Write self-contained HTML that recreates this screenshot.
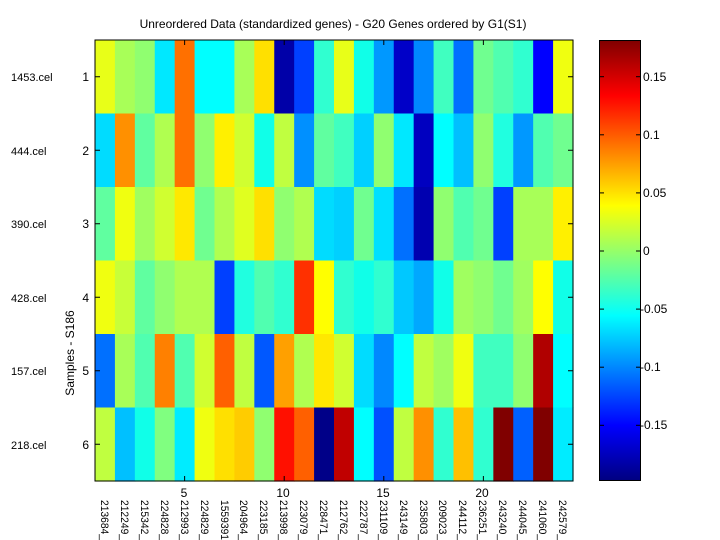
<!DOCTYPE html>
<html><head><meta charset="utf-8"><style>
body{margin:0;background:#fff;}
svg{display:block;font-family:"Liberation Sans",Arial,sans-serif;}
</style></head><body>
<svg id="s" width="720" height="540" viewBox="0 0 720 540" xmlns="http://www.w3.org/2000/svg">
<defs>
<linearGradient id="jet" x1="0" y1="1" x2="0" y2="0">
<stop offset="0" stop-color="#000080"/>
<stop offset="0.125" stop-color="#0000ff"/>
<stop offset="0.375" stop-color="#00ffff"/>
<stop offset="0.625" stop-color="#ffff00"/>
<stop offset="0.875" stop-color="#ff0000"/>
<stop offset="1" stop-color="#800000"/>
</linearGradient>
</defs>
<rect width="720" height="540" fill="#fff"/>
<g id="cells"></g>
<rect x="95" y="40" width="478" height="441" fill="none" stroke="#000" stroke-width="1"/>
<g stroke="#000" stroke-width="1" id="ticks"></g>
<text x="333" y="28" font-size="12" text-anchor="middle">Unreordered Data (standardized genes) - G20 Genes ordered by G1(S1)</text>
<g font-size="11">
<text x="11" y="81">1453.cel</text><text x="11" y="155">444.cel</text><text x="11" y="228">390.cel</text>
<text x="11" y="302">428.cel</text><text x="11" y="375">157.cel</text><text x="11" y="449">218.cel</text>
</g>
<g font-size="12" text-anchor="end">
<text x="89" y="81">1</text><text x="89" y="155">2</text><text x="89" y="228">3</text>
<text x="89" y="302">4</text><text x="89" y="375">5</text><text x="89" y="449">6</text>
</g>
<text transform="translate(74,353) rotate(-90)" font-size="12" text-anchor="middle">Samples - S186</text>
<g font-size="12" text-anchor="middle">
<text x="184" y="497">5</text><text x="283" y="497">10</text><text x="383" y="497">15</text><text x="482" y="497">20</text>
</g>
<g font-size="11">
<text transform="translate(101,500) rotate(90)" textLength="40" lengthAdjust="spacingAndGlyphs">213684_</text>
<text transform="translate(121,500) rotate(90)" textLength="40" lengthAdjust="spacingAndGlyphs">212249_</text>
<text transform="translate(141,500) rotate(90)" textLength="40" lengthAdjust="spacingAndGlyphs">215342_</text>
<text transform="translate(161,500) rotate(90)" textLength="40" lengthAdjust="spacingAndGlyphs">224828_</text>
<text transform="translate(181,500) rotate(90)" textLength="40" lengthAdjust="spacingAndGlyphs">212993_</text>
<text transform="translate(201,500) rotate(90)" textLength="40" lengthAdjust="spacingAndGlyphs">224829_</text>
<text transform="translate(221,500) rotate(90)" textLength="40" lengthAdjust="spacingAndGlyphs">1559391</text>
<text transform="translate(240,500) rotate(90)" textLength="40" lengthAdjust="spacingAndGlyphs">204964_</text>
<text transform="translate(260,500) rotate(90)" textLength="40" lengthAdjust="spacingAndGlyphs">223185_</text>
<text transform="translate(280,500) rotate(90)" textLength="40" lengthAdjust="spacingAndGlyphs">213998_</text>
<text transform="translate(300,500) rotate(90)" textLength="40" lengthAdjust="spacingAndGlyphs">223079_</text>
<text transform="translate(320,500) rotate(90)" textLength="40" lengthAdjust="spacingAndGlyphs">228471_</text>
<text transform="translate(340,500) rotate(90)" textLength="40" lengthAdjust="spacingAndGlyphs">212762_</text>
<text transform="translate(360,500) rotate(90)" textLength="40" lengthAdjust="spacingAndGlyphs">222787_</text>
<text transform="translate(380,500) rotate(90)" textLength="40" lengthAdjust="spacingAndGlyphs">231109_</text>
<text transform="translate(400,500) rotate(90)" textLength="40" lengthAdjust="spacingAndGlyphs">243149_</text>
<text transform="translate(420,500) rotate(90)" textLength="40" lengthAdjust="spacingAndGlyphs">235803_</text>
<text transform="translate(439,500) rotate(90)" textLength="40" lengthAdjust="spacingAndGlyphs">209023_</text>
<text transform="translate(459,500) rotate(90)" textLength="40" lengthAdjust="spacingAndGlyphs">244112_</text>
<text transform="translate(479,500) rotate(90)" textLength="40" lengthAdjust="spacingAndGlyphs">236251_</text>
<text transform="translate(499,500) rotate(90)" textLength="40" lengthAdjust="spacingAndGlyphs">243240_</text>
<text transform="translate(519,500) rotate(90)" textLength="40" lengthAdjust="spacingAndGlyphs">244045_</text>
<text transform="translate(539,500) rotate(90)" textLength="40" lengthAdjust="spacingAndGlyphs">241060_</text>
<text transform="translate(559,500) rotate(90)" textLength="40" lengthAdjust="spacingAndGlyphs">242579_</text>
</g>
<rect x="599.5" y="40.5" width="41" height="440" fill="url(#jet)" stroke="#000" stroke-width="1"/>
<g stroke="#000" stroke-width="1">
<line x1="600" y1="76.7" x2="604" y2="76.7"/><line x1="636" y1="76.7" x2="640" y2="76.7"/>
<line x1="600" y1="134.8" x2="604" y2="134.8"/><line x1="636" y1="134.8" x2="640" y2="134.8"/>
<line x1="600" y1="192.9" x2="604" y2="192.9"/><line x1="636" y1="192.9" x2="640" y2="192.9"/>
<line x1="600" y1="251" x2="604" y2="251"/><line x1="636" y1="251" x2="640" y2="251"/>
<line x1="600" y1="309.1" x2="604" y2="309.1"/><line x1="636" y1="309.1" x2="640" y2="309.1"/>
<line x1="600" y1="367.2" x2="604" y2="367.2"/><line x1="636" y1="367.2" x2="640" y2="367.2"/>
<line x1="600" y1="425.3" x2="604" y2="425.3"/><line x1="636" y1="425.3" x2="640" y2="425.3"/>
</g>
<g font-size="12">
<text x="643" y="81">0.15</text><text x="643" y="139">0.1</text><text x="643" y="197">0.05</text>
<text x="643" y="255">0</text><text x="640" y="313">-0.05</text><text x="640" y="371">-0.1</text><text x="640" y="429">-0.15</text>
</g>
</svg>
<script>
var d=[
"e8ff18 a8ff58 90ff70 00e8ff ff7000 00ffff 00ffff a8ff58 ffe000 0000a8 0040ff 30ffd0 e8ff18 10ffe8 0098ff 0000c8 0088ff 40ffc0 0070ff 70ff90 50ffb0 30ffd0 0000ff f0ff10",
"00dcff ff9000 60ffa0 b0ff50 ff7000 90ff70 fff000 d0ff30 10ffe8 c0ff40 0090ff 60ffa0 40ffc0 00d0ff 90ff70 00e8ff 0000c0 00ffff 00c0ff 90ff70 20ffe0 0098ff 50ffb0 70ff90",
"60ffa0 f0ff10 a0ff60 d0ff30 ffe800 70ff90 b0ff50 e0ff20 ffe000 90ff70 b0ff50 00dcff 00d0ff 70ff90 00e0ff 0070ff 0000b0 90ff70 50ffb0 70ff90 0040ff a8ff58 a8ff58 fff000",
"f0ff10 c8ff38 60ffa0 90ff70 b0ff50 b0ff50 0040ff 20ffe0 50ffb0 30ffd0 ff3000 ffff00 30ffd0 10ffe8 30ffd0 00c8ff 00a8ff 10ffe8 a0ff60 90ff70 70ff90 a0ff60 ffff00 10ffe8",
"0070ff a8ff58 50ffb0 ff8000 50ffb0 d0ff30 ff6000 c0ff40 0058ff ffa000 b0ff50 ffe800 d0ff30 00dcff 0088ff 00ffff c0ff40 a0ff60 f0ff10 40ffc0 40ffc0 90ff70 b00000 00ffff",
"c0ff40 00c0ff 10ffe8 80ff80 00ecff f0ff10 ffe000 ffcc00 90ff70 ff1000 ff6000 000088 c00000 00ffff 0050ff c0ff40 ff9000 30ffd0 ffc000 30ffd0 800000 0060ff 800000 00ecff"];
var ns="http://www.w3.org/2000/svg",g=document.getElementById("cells"),t=document.getElementById("ticks");
var x0=95,y0=40,w=478/24,h=441/6;
d.forEach(function(r,i){r.split(" ").forEach(function(c,j){var e=document.createElementNS(ns,"rect");
e.setAttribute("x",x0+j*w);e.setAttribute("y",y0+i*h);e.setAttribute("width",w+0.6);e.setAttribute("height",h+0.6);e.setAttribute("fill","#"+c);g.appendChild(e);});});
function L(a,b,c,dd){var e=document.createElementNS(ns,"line");e.setAttribute("x1",a);e.setAttribute("y1",b);e.setAttribute("x2",c);e.setAttribute("y2",dd);t.appendChild(e);}
for(var i=0;i<6;i++){var y=y0+(i+0.5)*h;L(95,y,100,y);L(568,y,573,y);}
[5,10,15,20].forEach(function(k){var x=x0+(k-0.5)*w;L(x,40,x,45);L(x,476,x,481);});
</script>
</body></html>
